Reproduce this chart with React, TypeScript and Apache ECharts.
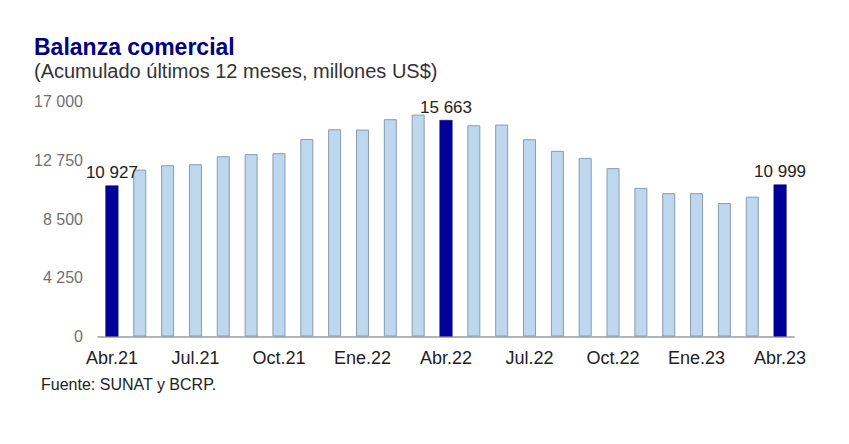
import React, { useEffect, useRef } from "react";
import * as echarts from "echarts";

const categories = [
  "Abr.21", "May.21", "Jun.21", "Jul.21", "Ago.21", "Set.21", "Oct.21", "Nov.21", "Dic.21",
  "Ene.22", "Feb.22", "Mar.22", "Abr.22", "May.22", "Jun.22", "Jul.22", "Ago.22", "Set.22",
  "Oct.22", "Nov.22", "Dic.22", "Ene.23", "Feb.23", "Mar.23", "Abr.23",
];
const values = [
  10927, 12070, 12390, 12460, 13040, 13190, 13260, 14290, 14990,
  14970, 15720, 16050, 15663, 15280, 15330, 14270, 13430, 12920,
  12180, 10750, 10370, 10370, 9650, 10120, 10999,
];
const highlighted = [0, 12, 24];
const yTicks = { min: 0, max: 17000, interval: 4250 };

const fmt = (v: number) => String(Math.round(v)).replace(/\B(?=(\d{3})+(?!\d))/g, " ");

export default function App() {
  const ref = useRef<HTMLDivElement>(null);
  useEffect(() => {
    if (!ref.current) return;
    const chart = echarts.init(ref.current, undefined, { renderer: "svg" });
    const font = "'Liberation Sans', Arial, sans-serif";
    chart.setOption({
      animation: false,
      textStyle: { fontFamily: font },
      grid: { left: 90, right: 63, top: 93.5, bottom: 115.5, containLabel: false },
      graphic: [
        {
          type: "text",
          left: 26,
          top: 27,
          style: { text: "Balanza comercial", fontSize: 23, fontWeight: "bold", fill: "#000080", fontFamily: font },
        },
        {
          type: "text",
          left: 26,
          top: 53,
          style: { text: "(Acumulado últimos 12 meses, millones US$)", fontSize: 20, fill: "#333333", fontFamily: font },
        },
        {
          type: "text",
          left: 33,
          top: 368,
          style: { text: "Fuente: SUNAT y BCRP.", fontSize: 16, fill: "#222222", fontFamily: font },
        },
      ],
      xAxis: {
        type: "category",
        data: categories,
        axisLine: { lineStyle: { color: "#9a9a9a", width: 1.5 } },
        axisTick: { show: false },
        axisLabel: { interval: 2, fontSize: 18, color: "#222222", margin: 12, fontFamily: font },
      },
      yAxis: {
        type: "value",
        min: yTicks.min,
        max: yTicks.max,
        interval: yTicks.interval,
        splitLine: { show: false },
        axisLine: { show: false },
        axisTick: { show: false },
        axisLabel: { fontSize: 16, color: "#707070", margin: 15, formatter: (v: number) => fmt(v), fontFamily: font },
      },
      series: [
        {
          type: "bar",
          barWidth: 13,
          data: values.map((v, i) => {
            const hi = highlighted.includes(i);
            return {
              value: v,
              itemStyle: hi
                ? { color: "#000099", borderColor: "#00006e", borderWidth: 0.5 }
                : { color: "#bdd7ee", borderColor: "#8a9bb0", borderWidth: 1 },
              label: hi
                ? {
                    show: true,
                    position: "top",
                    distance: 4,
                    formatter: () => fmt(v),
                    fontSize: 17,
                    color: "#222222",
                    fontFamily: font,
                  }
                : { show: false },
            };
          }),
        },
      ],
    });
    return () => chart.dispose();
  }, []);
  return <div ref={ref} style={{ width: 849, height: 444 }} />;
}
